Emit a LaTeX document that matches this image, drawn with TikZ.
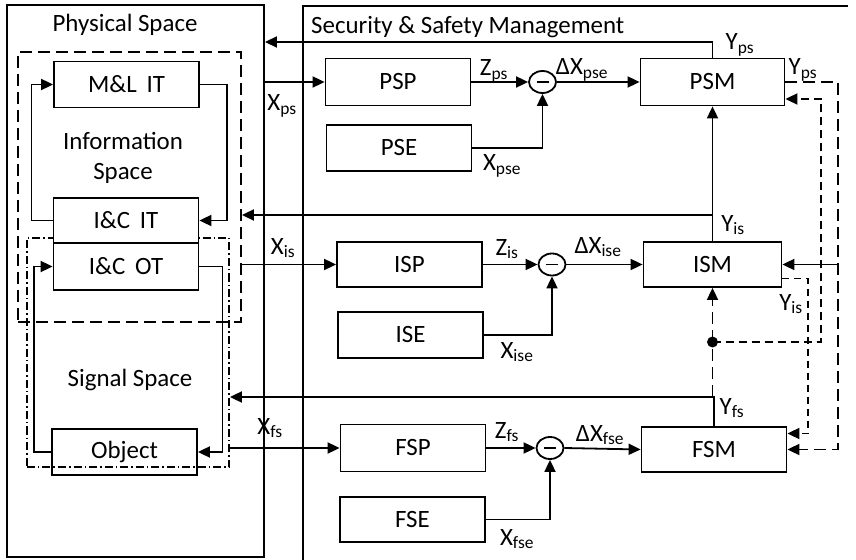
\documentclass[tikz,border=0pt]{standalone}
\usepackage{fontspec}
\setmainfont{Carlito}
\usetikzlibrary{arrows.meta,shapes.geometric}
\newcommand{\fsz}{\fontsize{25}{30}\selectfont}
\begin{document}
\begin{tikzpicture}[x=1bp,y=-1bp,
  blk/.style={draw,line width=1.8bp,minimum width=145bp,minimum height=46bp,inner sep=0pt,font=\fsz},
  cmp/.style={draw,ellipse,line width=1.8bp,minimum width=27bp,minimum height=22bp,inner sep=0pt},
  lbl/.style={font=\fsz,inner sep=0pt},
  ln/.style={line width=1.8bp},
  arr/.style={line width=1.8bp,-{Triangle[length=12bp,width=11bp]}},
  dshL/.style={dash pattern=on 12bp off 6bp},
  dshM/.style={dash pattern=on 8bp off 5bp},
  dshS/.style={dash pattern=on 7bp off 5bp},
  dshdot/.style={dash pattern=on 8bp off 3bp on 1.5bp off 3bp},
  cont/.style={inner sep=0pt,line width=1.9bp}
]
\useasboundingbox (0,0) rectangle (856,560);

% containers
\node[cont,draw,minimum width=257bp,minimum height=552bp] (phys) at (135.5,281) {};
\node[cont,draw,dshL,line width=1.8bp,minimum width=223bp,minimum height=270bp] (info) at (129.5,187) {};
\node[cont,draw,dshdot,line width=1.8bp,minimum width=202bp,minimum height=229bp] (sig) at (128,352.5) {};
\draw[cont] (303,560) -- (303,6) -- (848,6);

\node[lbl] (physt) at (125,25) {Physical Space};
\node[lbl,align=center,font=\fontsize{25}{30}\selectfont] (infot) at (123,158) {Information\\Space};
\node[lbl] (sigt) at (130,380) {Signal Space};
\node[lbl,anchor=west] (sect) at (311,27) {Security \& Safety Management};

% physical space blocks
\node[blk,fill=white] (ml) at (126.5,84.5) {M\&L\, IT};
\node[blk,fill=white,minimum height=45bp] (icit) at (126,220.5) {I\&C\, IT};
\node[blk,minimum height=47bp] (icot) at (126,266.5) {I\&C\, OT};
\node[blk] (obj) at (124.5,452) {Object};

\draw[arr] (ml.east) -- ++(27,0) |- (icit.east);
\draw[arr] (icit.west) -- ++(-21,0) |- (ml.west);
\draw[arr] (obj.west) -- ++(-17,0) |- (icot.west);
\draw[arr] (icot.east) -- ++(23,0) |- (obj.east);

% SSM blocks
\node[blk,minimum height=47bp] (psp) at (398,82) {PSP};
\node[blk] (pse) at (399,148) {PSE};
\node[blk,minimum height=45bp] (isp) at (409.5,264.5) {ISP};
\node[blk] (ise) at (410.5,335) {ISE};
\node[blk,minimum height=47bp] (fsp) at (413,448) {FSP};
\node[blk,minimum height=45bp] (fse) at (412.5,519.5) {FSE};

\node[cmp] (c1) at (542.5,82) {};
\node[cmp] (c2) at (552,264.5) {};
\node[cmp] (c3) at (550,448) {};
\foreach \c in {c1,c2,c3} \draw[line width=1.3bp] ([xshift=-6bp]\c.center) -- ([xshift=6bp]\c.center);

\node[blk,minimum width=144bp,minimum height=47bp] (psm) at (712.5,82) {PSM};
\node[blk,minimum width=138bp,minimum height=45bp] (ism) at (712.5,264.5) {ISM};
\node[blk,minimum width=145bp,minimum height=45bp] (fsm) at (714,449.5) {FSM};

% inputs from physical space
\draw[arr] (phys.east |- psp.west) -- (psp.west);
\draw[arr] (info.east |- isp.west) -- (isp.west);
\draw[arr] (sig.east |- fsp.west) -- (fsp.west);
\node[lbl] (lxps) at (282,106) {X\textsubscript{ps}};
\node[lbl] (lxis) at (283,248) {X\textsubscript{is}};
\node[lbl] (lxfs) at (270,428) {X\textsubscript{fs}};

% comparators
\draw[arr] (psp.east) -- (c1.west);
\draw[arr] (pse.east) -| (c1.south);
\draw[arr] (c1.east) -- (psm.west);
\draw[arr] (isp.east) -- (c2.west);
\draw[arr] (ise.east) -| (c2.south);
\draw[arr] (c2.east) -- (ism.west);
\draw[arr] (fsp.east) -- (c3.west);
\draw[arr] (fse.east) -| (c3.south);
\draw[arr] (c3.east) -- (fsm.west);

\node[lbl] (lzps) at (494,71) {Z\textsubscript{ps}};
\node[lbl] (lxpse) at (502,166) {X\textsubscript{pse}};
\node[lbl] (ldps) at (582,70) {ΔX\textsubscript{pse}};
\node[lbl] (lzis) at (507,249) {Z\textsubscript{is}};
\node[lbl] (lxise) at (517,352) {X\textsubscript{ise}};
\node[lbl] (ldis) at (598,247) {ΔX\textsubscript{ise}};
\node[lbl] (lzfs) at (507,432) {Z\textsubscript{fs}};
\node[lbl] (lxfse) at (517,539) {X\textsubscript{fse}};
\node[lbl] (ldfs) at (600,435) {ΔX\textsubscript{fse}};

% feedbacks
\coordinate (ypsT) at (712.5,42);
\coordinate (yisT) at (712.5,215);
\coordinate (yfsT) at (712.5,397);
\coordinate (dot) at (712.5,342);
\draw[arr] (psm.north) |- (phys.east |- ypsT);
\draw[arr] (ism.north) -- (psm.south);
\draw[arr] (yisT) -- (info.east |- yisT);
\draw[arr] (fsm.north) |- (sig.east |- yfsT);
\node[lbl] (lyps) at (740,45) {Y\textsubscript{ps}};
\node[lbl] (lyis) at (733,225) {Y\textsubscript{is}};
\node[lbl] (lyfs) at (732,408) {Y\textsubscript{fs}};

% dashed cross links
\coordinate (r1) at (838,0);
\coordinate (r2) at (821,0);
\coordinate (r3) at (808,0);
\coordinate (psmin) at ([yshift=-17bp]psm.east);
\coordinate (ismout) at ([yshift=-14bp]ism.east);
\coordinate (fsmin) at ([yshift=16bp]fsm.east);

\draw[ln,dshL] (yfsT) -- (dot);
\fill (dot) circle (5.5bp);
\draw[arr,dshL] (dot) -- (ism.south);
\draw[arr,dshM] (dot) -| (r2 |- psmin) -- (psmin);
\draw[arr,dshL] (psm.east) -| (r1 |- fsm.east) -- (fsm.east);
\draw[arr] (r1 |- ism.east) -- (ism.east);
\draw[arr,dshS] (ismout) -| (r3 |- fsmin) -- (fsmin);
\node[lbl] (lyps2) at (803,70) {Y\textsubscript{ps}};
\node[lbl] (lyis2) at (791,304) {Y\textsubscript{is}};
\end{tikzpicture}
\end{document}
